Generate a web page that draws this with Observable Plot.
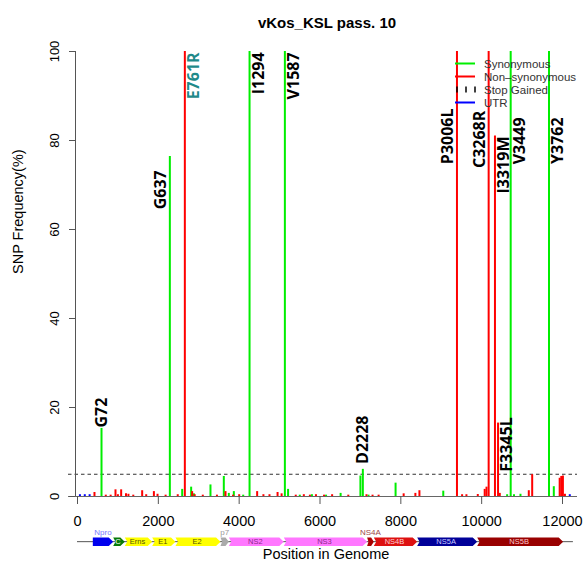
<!DOCTYPE html>
<html><head><meta charset="utf-8">
<script src="https://cdn.jsdelivr.net/npm/d3@7"></script>
<script src="https://cdn.jsdelivr.net/npm/@observablehq/plot@0.6"></script>
<style>body{margin:0;background:#fff}#chart{width:583px;height:572px}</style>
</head><body><div id="chart"></div>
<script>
// ---------- data ----------
const chartTitle = "vKos_KSL pass. 10";
const xLabel = "Position in Genome";
const yLabel = "SNP Frequency(%)";
const xTicks = [0, 2000, 4000, 6000, 8000, 10000, 12000];
const yTicks = [0, 20, 40, 60, 80, 100];
const threshold = 5;
const genomeLength = 12270;

const synPos  = [594, 2285, 4257, 5131, 7060, 10718, 11666, 2590, 2812, 2880, 3290, 3620, 3744, 3868, 4100, 5210, 5500, 5800, 6150, 6510, 7000, 7200, 7870, 9050, 10630, 10800, 10960, 11785];
const synFreq = [15.3, 76.4, 100, 100, 6.1, 100, 100, 1.6, 2.1, 0.6, 2.6, 4.5, 0.7, 1.1, 0.3, 1.6, 0.3, 0.4, 0.3, 0.7, 4.6, 0.3, 3.0, 1.2, 0.4, 0.4, 0.5, 2.2];

const nonPos  = [2656, 9389, 10173, 10329, 10405, 420, 700, 820, 940, 1000, 1080, 1200, 1260, 1380, 1600, 1700, 1890, 1980, 2180, 2480, 2837, 2900, 3100, 3450, 3662, 3850, 4000, 4445, 4600, 4750, 4950, 5050, 5400, 5600, 5750, 5900, 6100, 6300, 6700, 7150, 7300, 7450, 8070, 8360, 8460, 9516, 9623, 9904, 10075, 10120, 10448, 11166, 11250, 11930, 11970, 12010, 12060];
const nonFreq = [100, 100, 100, 81, 16.5, 0.9, 0.3, 0.3, 1.5, 0.4, 1.5, 0.6, 0.5, 0.3, 1.3, 0.4, 1.1, 0.5, 0.3, 0.4, 1.1, 0.4, 0.3, 0.3, 1.1, 0.3, 0.4, 1.1, 0.4, 0.4, 0.9, 0.6, 0.3, 0.4, 0.3, 0.4, 0.3, 0.4, 0.3, 0.4, 0.3, 0.3, 0.6, 0.7, 1.3, 0.4, 0.4, 0.45, 1.6, 2.1, 0.7, 1.3, 4.9, 4.1, 4.5, 4.6, 0.5];

const utrPos  = [60, 180, 300, 12180];
const utrFreq = [0.4, 0.4, 0.4, 0.4];

const mutLabels = ["G72", "G637", "E761R", "I1294", "V1587", "D2228", "P3006L", "C3268R", "I3319M", "F3345L", "V3449", "Y3762"];
const mutPos    = [594, 2285, 2656, 4257, 5131, 7060, 9389, 10173, 10329, 10405, 10718, 11666];
const mutTop    = [22.2, 73.3, 99.8, 99.8, 99.8, 18.2, 87.2, 86.7, 80.9, 17.8, 85.2, 85.2];
const mutSide   = ["above", "left", "right", "right", "right", "above", "left", "left", "right", "right", "right", "right"];

const geneNames = ["Npro", "C", "Erns", "E1", "E2", "p7", "NS2", "NS3", "NS4A", "NS4B", "NS5A", "NS5B"];
const geneStart = [379, 883, 1170, 1848, 2424, 3538, 3744, 5104, 7166, 7331, 8404, 9889];
const geneEnd   = [883, 1170, 1848, 2424, 3538, 3744, 5104, 7166, 7331, 8404, 9889, 12016];

const legendLabels = ["Synonymous", "Non\u2013synonymous", "Stop Gained", "UTR"];

// ---------- styles ----------
const typeColor = {syn: "#00ee00", non: "#ff0000", stop: "#000000", utr: "#0000ff"};
const geneFill = {Npro: "#0000ee", C: "#087a08", Erns: "#ffff00", E1: "#ffff00", E2: "#ffff00", p7: "#aaaaaa",
  NS2: "#ff77ff", NS3: "#ff77ff", NS4A: "#aa0000", NS4B: "#dd1111", NS5A: "#000099", NS5B: "#990000"};
const geneText = {Npro: "#7777ff", C: "#ffffff", Erns: "#555500", E1: "#555500", E2: "#555500", p7: "#999999",
  NS2: "#8a2a8a", NS3: "#8a2a8a", NS4A: "#a04848", NS4B: "#ffd0d0", NS5A: "#c8c8ff", NS5B: "#ffc8c8"};
const labelAbove = new Set(["Npro", "p7", "NS4A"]);
const highlight = new Set(["E761R"]);
const sideDx = {above: 0, left: -9, right: 9};

// ---------- tables ----------
const snps = [
  ...synPos.map((p, i) => ({pos: p, freq: synFreq[i], type: "syn"})),
  ...utrPos.map((p, i) => ({pos: p, freq: utrFreq[i], type: "utr"})),
  ...nonPos.map((p, i) => ({pos: p, freq: nonFreq[i], type: "non"}))
];
const muts = mutLabels.map((t, i) => ({label: t, pos: mutPos[i], top: mutTop[i], side: mutSide[i]}));
const genes = geneNames.map((n, i) => ({name: n, start: geneStart[i], end: geneEnd[i]}));

// gene band in y units (below the x axis)
const bandMid = -10.15, bandHalf = 0.95;
const head = 110, notch = 60;
function genePoly(g, i) {
  const w = g.end - g.start;
  const h = Math.min(head, w * 0.4);
  const n = i === 0 ? 0 : Math.min(notch, w * 0.2);
  return [
    {x: g.start, y: bandMid + bandHalf},
    {x: g.end - h, y: bandMid + bandHalf},
    {x: g.end, y: bandMid},
    {x: g.end - h, y: bandMid - bandHalf},
    {x: g.start, y: bandMid - bandHalf},
    {x: g.start + n, y: bandMid},
    {x: g.start, y: bandMid + bandHalf}
  ];
}

const NS = "http://www.w3.org/2000/svg";
function legendMark() {
  const g = document.createElementNS(NS, "g");
  const colors = [typeColor.syn, typeColor.non, typeColor.stop, typeColor.utr];
  legendLabels.forEach((lab, i) => {
    const y = 63.5 + i * 13;
    const add = (x1, x2, y1, y2, c, w, dash) => {
      const l = document.createElementNS(NS, "line");
      l.setAttribute("x1", x1); l.setAttribute("x2", x2);
      l.setAttribute("y1", y1); l.setAttribute("y2", y2);
      l.setAttribute("stroke", c); l.setAttribute("stroke-width", w);
      if (dash) l.setAttribute("stroke-dasharray", dash);
      g.appendChild(l);
    };
    if (i === 2) {
      add(457, 457, y - 3, y + 3, colors[i], 1.5);
      add(466, 466, y - 3, y + 3, colors[i], 1.5);
      add(475, 475, y - 3, y + 3, colors[i], 1.5);
    } else {
      add(455, 475, y, y, colors[i], 2);
    }
    const t = document.createElementNS(NS, "text");
    t.setAttribute("x", 484); t.setAttribute("y", y);
    t.setAttribute("dy", "0.35em");
    t.setAttribute("text-anchor", "start");
    t.setAttribute("font-size", 11.5);
    t.setAttribute("fill", "#333");
    t.textContent = lab;
    g.appendChild(t);
  });
  return g;
}

const labelMarks = ["above", "left", "right"].map(side => Plot.text(muts.filter(m => m.side === side), {
  x: "pos", y: "top", text: "label", rotate: -90, textAnchor: "end", lineAnchor: "middle",
  dx: sideDx[side], fontSize: 16, fontWeight: "bold", fontFamily: "Open Sans, DejaVu Sans, sans-serif",
  fill: d => highlight.has(d.label) ? "#1f8a8a" : "#000"}));

const marks = [
  // baseline + threshold
  Plot.ruleY([0], {stroke: "#666", insetLeft: -9, insetRight: -15}),
  Plot.ruleY([threshold], {stroke: "#333", strokeDasharray: "3.5,3", insetLeft: -9, insetRight: -15}),
  // y axis line
  Plot.ruleX([0], {y1: d3.min(yTicks), y2: d3.max(yTicks), dx: -2, stroke: "#555"}),
  Plot.axisY({ticks: yTicks, tickSize: 6, tickPadding: 11, tickRotate: -90, fontSize: 13, dx: -2, stroke: "#555", label: null}),
  Plot.axisX({ticks: xTicks, tickFormat: d => String(d), tickSize: 8, tickPadding: 11, fontSize: 14.5, stroke: "#555", label: null}),
  // SNP lines
  Plot.ruleX(snps, {x: "pos", y1: 0, y2: "freq", stroke: d => typeColor[d.type], strokeWidth: 2}),
  ...labelMarks,
  // gene map
  Plot.ruleY([bandMid], {x1: 0, x2: genomeLength, stroke: "#555", strokeWidth: 1}),
  ...genes.map((g, i) => Plot.line(genePoly(g, i), {x: "x", y: "y", fill: geneFill[g.name], stroke: "none", curve: "linear"})),
  Plot.text(genes.filter(g => !labelAbove.has(g.name)), {x: d => (d.start + d.end) / 2 - 25, y: bandMid, text: "name",
    fontSize: 7.5, fill: d => geneText[d.name]}),
  Plot.text(genes.filter(g => labelAbove.has(g.name)), {x: d => (d.start + d.end) / 2, y: bandMid + bandHalf, dy: -5, text: "name",
    fontSize: 8, fill: d => geneText[d.name]}),
  // titles
  Plot.text([chartTitle], {frameAnchor: "top", dy: -34, dx: 7, fontSize: 15, fontWeight: "bold", fill: "#000"}),
  Plot.text([xLabel], {frameAnchor: "bottom", dy: 62, dx: 6, fontSize: 14.5, fill: "#000"}),
  Plot.text([yLabel], {frameAnchor: "left", dx: -59, rotate: -90, fontSize: 14.5, fill: "#000"}),
  legendMark
];

const chart = Plot.plot({
  width: 583, height: 572,
  marginLeft: 77, marginRight: 21, marginTop: 51, marginBottom: 76,
  x: {domain: [0, 12000], label: null},
  y: {domain: [0, 100], label: null},
  style: {fontFamily: "Liberation Sans, Arial, Helvetica, sans-serif", background: "white", color: "#000"},
  marks
});
document.getElementById("chart").appendChild(chart);
</script>
</body></html>
